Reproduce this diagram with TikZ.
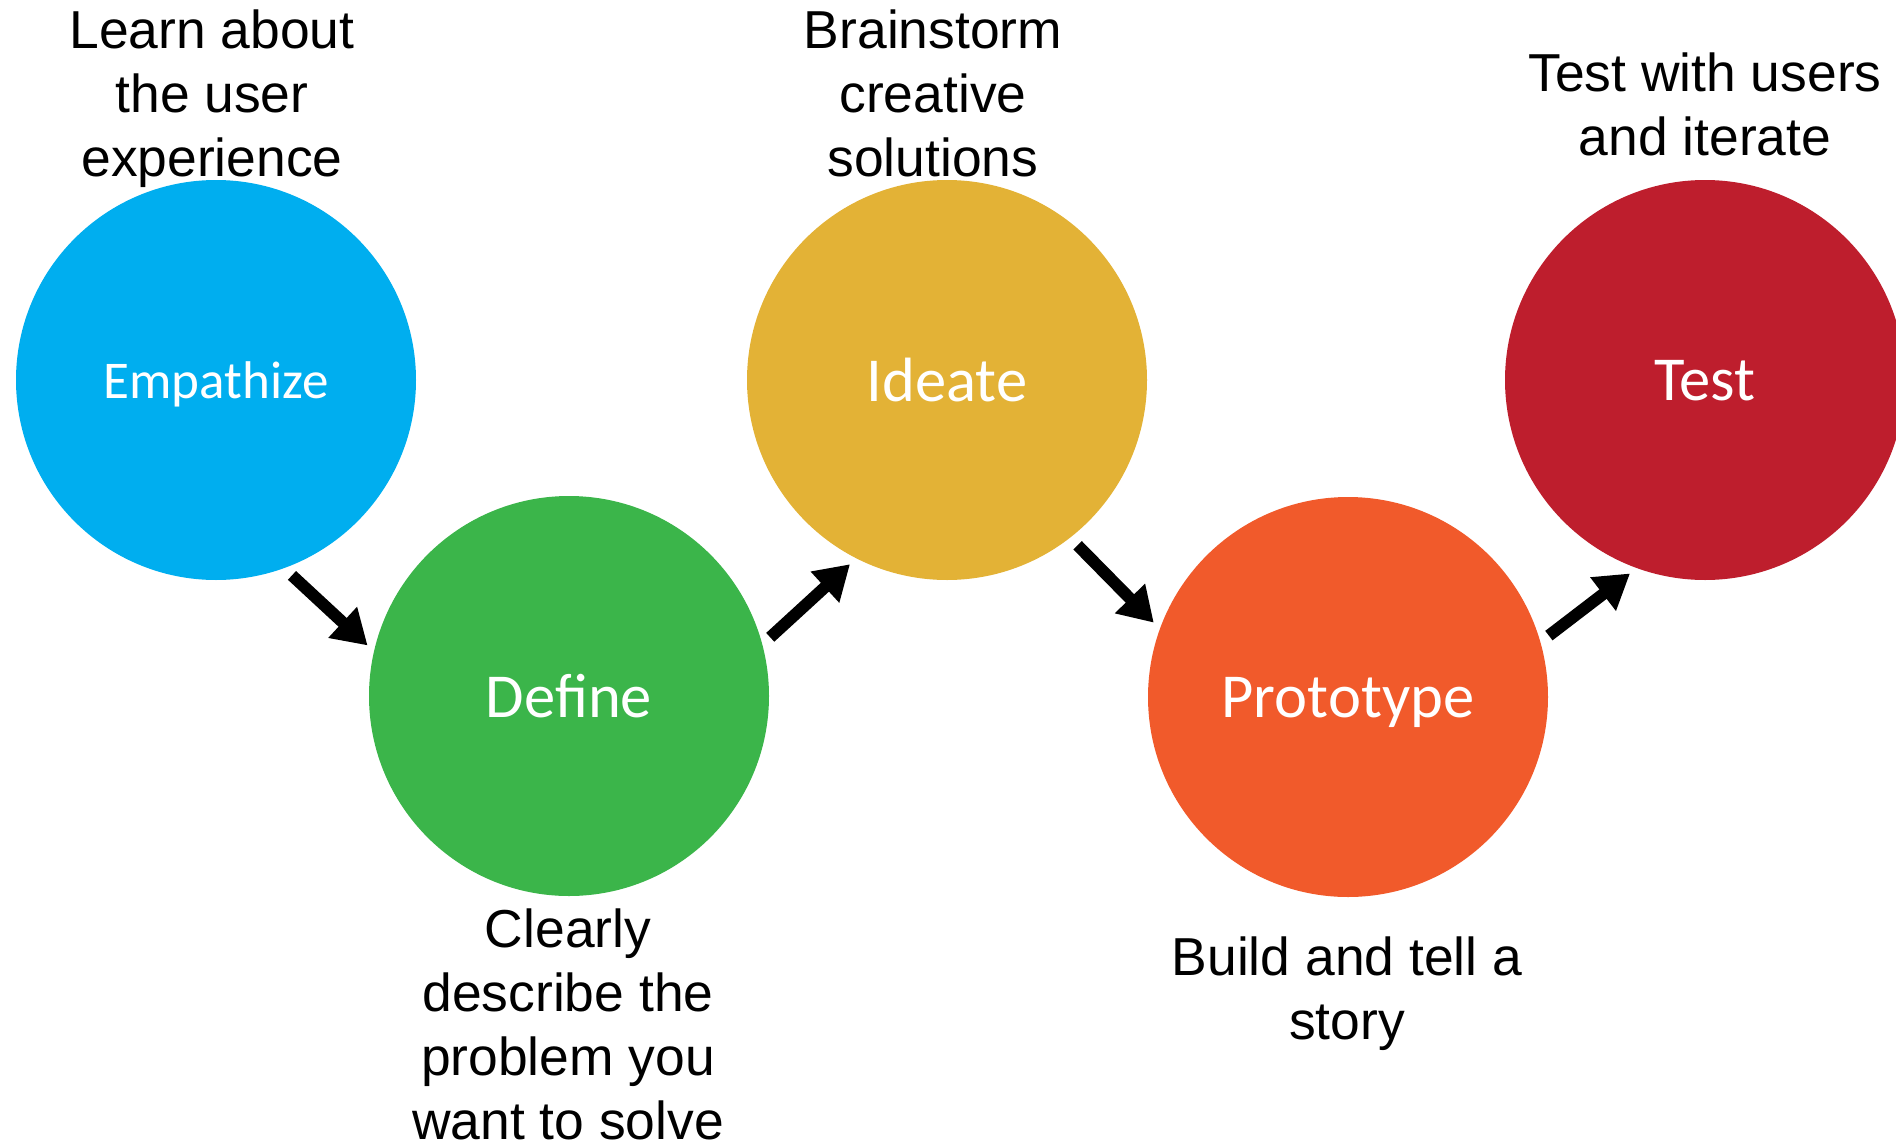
\documentclass[tikz,border=0pt]{standalone}
\usepackage{fontspec}
\setmainfont{Liberation Sans}
\newfontfamily\stagefont{Carlito}
\usepackage{tikz}
\usetikzlibrary{arrows.meta}
\definecolor{empcol}{RGB}{0,174,239}
\definecolor{defcol}{RGB}{59,181,74}
\definecolor{idecol}{RGB}{227,178,54}
\definecolor{procol}{RGB}{241,90,43}
\definecolor{tstcol}{RGB}{190,30,45}
\tikzset{stage/.style={circle,inner sep=0pt,minimum size=4cm,text depth=0pt,text=white,font=\stagefont\fontsize{17.8}{21}\selectfont}}
\tikzset{note/.style={align=center,inner sep=0pt,anchor=base,font=\fontsize{15.2}{18.2}\selectfont}}
\tikzset{flow/.style={line width=3.4pt,-{Triangle[width=0.4cm,length=0.34cm]},shorten <=0.1cm,shorten >=0.08cm}}

\begin{document}
\begin{tikzpicture}
    \useasboundingbox (0,0) rectangle (18.96,-11.46);
    \node[stage,fill=empcol,font=\stagefont\fontsize{15.1}{18}\selectfont] (emp) at (2.16,-3.80) {Empathize};
    \node[stage,fill=defcol] (def) at (5.69,-6.96) {Define};
    \node[stage,fill=idecol] (ide) at (9.47,-3.80) {Ideate};
    \node[stage,fill=procol] (pro) at (13.48,-6.97) {Prototype};
    \node[stage,fill=tstcol] (tst) at (17.05,-3.80) {Test};
    % texts, placed by the baseline of their last line
    \node[note] (learn) at (2.12,-1.76) {Learn about\\the user\\experience};
    \node[note] (brain) at (9.33,-1.76) {Brainstorm\\creative\\solutions};
    \node[note] (iter) at (17.05,-1.55) {Test with users\\and iterate};
    \node[note] (clear) at (5.68,-11.39) {Clearly\\describe the\\problem you\\want to solve};
    \node[note] (build) at (13.47,-10.39) {Build and tell a\\story};
    \draw[flow] (emp.-70) -- (def.167);
    \draw[flow] (def.15) -- (ide.-117);
    \draw[flow] (ide.-52) -- (pro.160);
    \draw[flow] (pro.16) -- (tst.-110);
  \end{tikzpicture}
\end{document}
